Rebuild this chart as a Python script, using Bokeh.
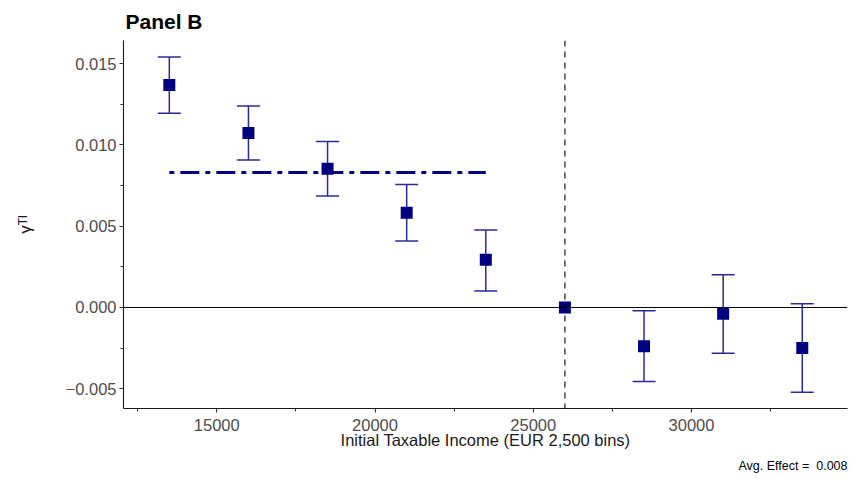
from bokeh.plotting import figure
from bokeh.models import ColumnDataSource, Whisker, TeeHead, Span, Title, FixedTicker, Range1d
from bokeh.embed import file_html
from bokeh.resources import INLINE

# ---- data ----
x_bins = [13500, 16000, 18500, 21000, 23500, 26000, 28500, 31000, 33500]
coef = [0.01369, 0.01074, 0.00853, 0.00583, 0.00293, 0.0, -0.00239, -0.00039, -0.00249]
ci_low = [0.01195, 0.00908, 0.00686, 0.00409, 0.00102, float("nan"), -0.00456, -0.00282, -0.00522]
ci_high = [0.01541, 0.01240, 0.01021, 0.00757, 0.00477, float("nan"), -0.00020, 0.00201, 0.00023]

ref_income = 26000
avg_line_y = 0.0083
avg_line_x = [13500, 23500]
avg_effect_text = "Avg. Effect = \u00a00.008"

x_ticks = [15000, 20000, 25000, 30000]
x_minor = [12500, 17500, 22500, 27500, 32500]
x_tick_labels = ["15000", "20000", "25000", "30000"]
y_ticks = [-0.005, 0.0, 0.005, 0.010, 0.015]
y_minor = [-0.0025, 0.0025, 0.0075, 0.0125]
y_tick_labels = ["\u22120.005", "0.000", "0.005", "0.010", "0.015"]

title_text = "Panel B"
x_label = "Initial Taxable Income (EUR 2,500 bins)"
y_label = "\u03b3\u1d40\u1d35"

FONT = "Liberation Sans"
NAVY = "#000080"
BAR = "#2a2a96"

W, H = 850, 477
BL, BR, BT, BB = 123, 3, 39, 69

p = figure(width=W, height=H, output_backend="svg", toolbar_location=None,
           x_range=Range1d(12052, 34929), y_range=Range1d(-0.006217, 0.016430),
           min_border_left=BL, min_border_right=BR, min_border_top=BT, min_border_bottom=BB)
p.outline_line_color = None
p.xgrid.visible = False
p.ygrid.visible = False
p.background_fill_color = "white"
p.border_fill_color = "white"

# title
p.title.text = title_text
p.title.text_font = FONT
p.title.text_font_size = "21px"
p.title.text_font_style = "bold"
p.title.text_color = "black"
p.title.align = "left"
p.title.offset = 2
p.title.standoff = 15

# reference lines
p.add_layout(Span(location=0, dimension="width", line_color="black", line_width=1))
p.add_layout(Span(location=ref_income, dimension="height", line_color="black",
                  line_width=1.1, line_dash="6 5"))

# average effect line
p.line(x=avg_line_x, y=[avg_line_y, avg_line_y], line_color=NAVY, line_width=3,
       line_dash="5 6 19 6")

src = ColumnDataSource(dict(x=x_bins, y=coef, lo=ci_low, hi=ci_high))
wh = Whisker(source=src, base="x", lower="lo", upper="hi", dimension="height",
             line_color=BAR, line_width=1.5,
             upper_head=TeeHead(size=23, line_color=BAR, line_width=1.5),
             lower_head=TeeHead(size=23, line_color=BAR, line_width=1.5))
p.add_layout(wh)

p.scatter(x="x", y="y", source=src, marker="square", size=12,
          fill_color=NAVY, line_color=None)

# axes
for ax in (p.xaxis[0], p.yaxis[0]):
    ax.axis_line_color = "#1a1a1a"
    ax.axis_line_width = 1.1
    ax.major_tick_line_color = "#333333"
    ax.minor_tick_line_color = "#333333"
    ax.major_tick_line_width = 1.1
    ax.minor_tick_line_width = 1.1
    ax.major_tick_in = 0
    ax.major_tick_out = 4
    ax.minor_tick_in = 0
    ax.minor_tick_out = 3
    ax.major_label_text_font = FONT
    ax.major_label_text_font_size = "16.5px"
    ax.major_label_text_color = "#4d4d4d"

p.xaxis.major_label_standoff = 6
p.yaxis.major_label_standoff = 3

p.xaxis.ticker = FixedTicker(ticks=x_ticks, minor_ticks=x_minor)
p.xaxis.major_label_overrides = dict(zip(x_ticks, x_tick_labels))
p.yaxis.ticker = FixedTicker(ticks=y_ticks, minor_ticks=y_minor)
p.yaxis.major_label_overrides = dict(zip(y_ticks, y_tick_labels))

p.xaxis.axis_label = x_label
p.xaxis.axis_label_text_font = FONT
p.xaxis.axis_label_text_font_size = "16.5px"
p.xaxis.axis_label_text_font_style = "normal"
p.xaxis.axis_label_text_color = "#1a1a1a"
p.xaxis.axis_label_standoff = -3

p.yaxis.axis_label = y_label
p.yaxis.axis_label_text_font = FONT
p.yaxis.axis_label_text_font_size = "17px"
p.yaxis.axis_label_text_font_style = "normal"
p.yaxis.axis_label_text_color = "#1a1a1a"
p.yaxis.axis_label_standoff = 28

# caption below the x axis
cap = Title(text=avg_effect_text, align="right", text_font=FONT, text_font_size="12.5px",
            text_font_style="normal", text_color="black", standoff=10)
p.add_layout(cap, "below")

open("out.html", "w").write(file_html(p, INLINE))
